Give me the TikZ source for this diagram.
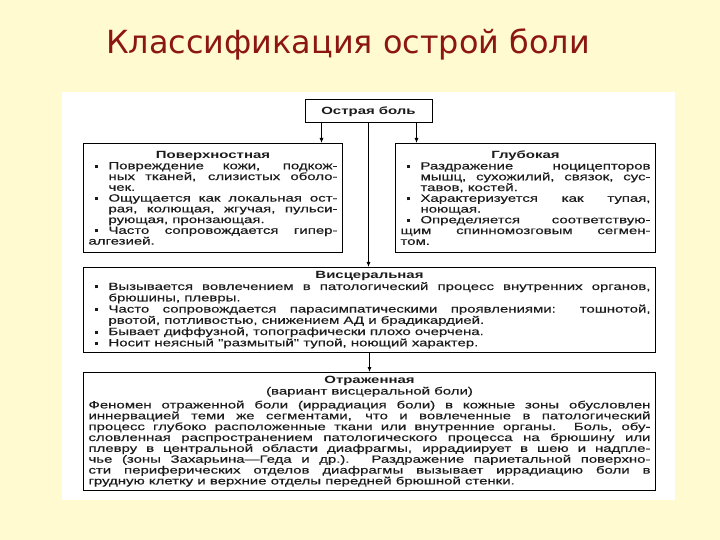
\documentclass[tikz,border=0pt]{standalone}
\usepackage{fontspec}
\setmainfont{Liberation Sans}[Ligatures=TeXOff, FakeStretch=1.43, UprightFeatures={FakeBold=0.4}]
\newfontfamily\titlefont{DejaVu Sans}
\usetikzlibrary{arrows.meta}

\definecolor{slidebg}{RGB}{255,250,208}
\definecolor{titlered}{RGB}{140,22,18}
\definecolor{ink}{RGB}{28,28,28}

\tolerance=10000
\exhyphenpenalty=10000

%% bullet and list item
\newcommand{\blt}{\rule[1.5bp]{3bp}{3bp}}
\newcommand{\itm}{\par\noindent\hangindent=20bp\hangafter=1\makebox[20bp][l]{\hspace{6bp}\blt}}
\newcommand{\hdr}[1]{{\centering\bfseries #1\par}}

\tikzset{
  box/.style={draw, line width=1bp, fill=white, anchor=north west,
    inner xsep=5bp, inner ysep=2bp, align=justify, text=ink,
    font=\fontsize{10.5}{10.8}\selectfont},
  arr/.style={-{Latex[length=5bp,width=4bp]}, line width=0.8bp},
}

\begin{document}
\begin{tikzpicture}[x=1bp,y=-1bp]

%% slide and page
\fill[slidebg] (0,0) rectangle (720,540);
\fill[white] (62,92) rectangle (675,500);

%% title
\node[text=titlered, font=\titlefont\fontsize{32}{36}\selectfont] (title) at (348,44) {Классификация острой боли};

%% boxes
\node[draw, line width=1bp, fill=white, minimum width=127bp, minimum height=23bp,
  font=\fontsize{10.5}{12}\selectfont\bfseries, text=ink] (acute) at (368.5,111.5) {Острая боль};

\node[box, text width=249bp, minimum height=109bp] (surf) at (83,143) {%
\hdr{Поверхностная}
\itm Повреждение кожи, подкож-\linebreak ных тканей, слизистых оболо-\linebreak чек.
\itm Ощущается как локальная ост-\linebreak рая, колющая, жгучая, пульси-\linebreak рующая, пронзающая.
\itm Часто сопровождается гипер-\linebreak алгезией.};

\node[box, text width=250bp, minimum height=109bp] (deep) at (395,143) {%
\hdr{Глубокая}
\itm Раздражение ноцицепторов\linebreak мышц, сухожилий, связок, сус-\linebreak тавов, костей.
\itm Характеризуется как тупая,\linebreak ноющая.
\itm Определяется соответствую-\linebreak щим спинномозговым сегмен-\linebreak том.};

\node[box, text width=562bp, minimum height=85bp, font=\fontsize{10.5}{11.3}\selectfont] (visc) at (83,267) {%
\hdr{Висцеральная}
\itm Вызывается вовлечением в патологический процесс внутренних органов,\linebreak брюшины, плевры.
\itm Часто сопровождается парасимпатическими проявлениями: тошнотой,\linebreak рвотой, потливостью, снижением АД и брадикардией.
\itm Бывает диффузной, топографически плохо очерчена.
\itm Носит неясный "размытый" тупой, ноющий характер.};

\node[box, text width=562bp, minimum height=118bp, font=\fontsize{10.5}{10.9}\selectfont] (refl) at (83,372) {%
\hdr{Отраженная}
{\centering (вариант висцеральной боли)\par}
\vspace{3bp}
\noindent Феномен отраженной боли (иррадиация боли) в кожные зоны обусловлен\linebreak
иннервацией теми же сегментами, что и вовлеченные в патологический\linebreak
процесс глубоко расположенные ткани или внутренние органы. Боль, обу-\linebreak
словленная распространением патологического процесса на брюшину или\linebreak
плевру в центральной области диафрагмы, иррадиирует в шею и надпле-\linebreak
чье (зоны Захарьина—Геда и др.). Раздражение париетальной поверхно-\linebreak
сти периферических отделов диафрагмы вызывает иррадиацию боли в\linebreak
грудную клетку и верхние отделы передней брюшной стенки.};

%% connectors
\draw[arr] ([xshift=-47bp]acute.south) -- ([xshift=-47bp]acute.south |- surf.north);
\draw[arr] ([xshift=48bp]acute.south) -- ([xshift=48bp]acute.south |- deep.north);
\draw[arr] (acute.south) -- (acute.south |- visc.north);
\draw[arr] (visc.south) -- (refl.north);

\end{tikzpicture}
\end{document}
